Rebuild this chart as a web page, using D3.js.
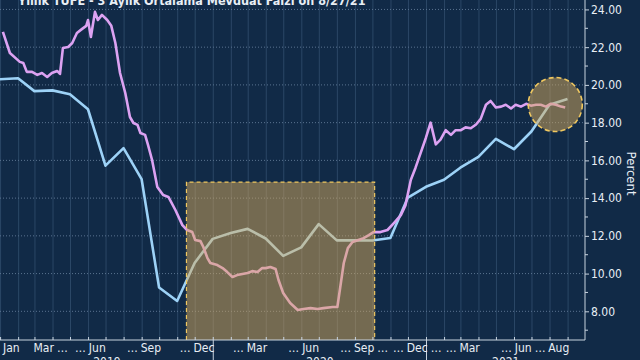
<!DOCTYPE html>
<html>
<head>
<meta charset="utf-8">
<script src="https://cdn.jsdelivr.net/npm/d3@7"></script>
<style>
  html, body { margin: 0; padding: 0; background: #112a47; }
  svg { display: block; }
  text { font-family: "DejaVu Sans Condensed", "DejaVu Sans", sans-serif; fill: #e8eef5; }
</style>
</head>
<body>
<svg id="chart" width="640" height="360"></svg>
<script>
// Yillik TUFE (aylik)
const cpiDates = ['2018-12-31', '2019-01-31', '2019-02-28', '2019-03-31', '2019-04-30', '2019-05-31',
  '2019-06-30', '2019-07-31', '2019-08-31', '2019-09-30', '2019-10-31', '2019-11-30', '2019-12-31',
  '2020-01-31', '2020-02-29', '2020-03-31', '2020-04-30', '2020-05-31', '2020-06-30', '2020-07-31',
  '2020-08-31', '2020-09-30', '2020-10-31', '2020-11-30', '2020-12-31', '2021-01-31', '2021-02-28',
  '2021-03-31', '2021-04-30', '2021-05-31', '2021-06-30', '2021-07-31', '2021-08-31']
const cpiValues = [20.30, 20.35, 19.67, 19.71, 19.50, 18.71, 15.72, 16.65, 15.01, 9.26, 8.55, 10.56, 11.84,
  12.15, 12.37, 11.86, 10.94, 11.39, 12.62, 11.76, 11.77, 11.75, 11.89, 14.03, 14.60, 14.97, 15.61,
  16.19, 17.14, 16.59, 17.53, 18.95, 19.25]

// 3 aylik ortalama mevduat faizi (haftalik)
const depDates = ['2019-01-05', '2019-01-17', '2019-02-03', '2019-02-09', '2019-02-15', '2019-02-24',
  '2019-03-05', '2019-03-13', '2019-03-22', '2019-03-30', '2019-04-08', '2019-04-13', '2019-04-18',
  '2019-04-27', '2019-05-04', '2019-05-12', '2019-05-21', '2019-05-28', '2019-05-31', '2019-06-05',
  '2019-06-12', '2019-06-17', '2019-06-24', '2019-07-03', '2019-07-10', '2019-07-17', '2019-07-25',
  '2019-08-03', '2019-08-11', '2019-08-17', '2019-08-24', '2019-08-29', '2019-09-06', '2019-09-11',
  '2019-09-18', '2019-09-27', '2019-10-07', '2019-10-16', '2019-10-28', '2019-11-09', '2019-11-17',
  '2019-11-26', '2019-12-01', '2019-12-10', '2019-12-15', '2019-12-22', '2019-12-27', '2020-01-08',
  '2020-01-17', '2020-01-25', '2020-02-03', '2020-02-11', '2020-02-20', '2020-02-29', '2020-03-08',
  '2020-03-17', '2020-03-25', '2020-03-31', '2020-04-08', '2020-04-17', '2020-04-22', '2020-04-30',
  '2020-05-12', '2020-05-25', '2020-06-04', '2020-06-16', '2020-06-28', '2020-07-08', '2020-07-24',
  '2020-08-01', '2020-08-06', '2020-08-12', '2020-08-19', '2020-08-27', '2020-09-06', '2020-09-15',
  '2020-09-24', '2020-10-02', '2020-10-14', '2020-10-26', '2020-11-06', '2020-11-18', '2020-11-26',
  '2020-12-05', '2020-12-13', '2020-12-22', '2020-12-31', '2021-01-08', '2021-01-17', '2021-01-25',
  '2021-02-03', '2021-02-12', '2021-02-20', '2021-03-01', '2021-03-09', '2021-03-18', '2021-03-27',
  '2021-04-04', '2021-04-13', '2021-04-21', '2021-04-30', '2021-05-09', '2021-05-17', '2021-05-26',
  '2021-06-03', '2021-06-12', '2021-06-21', '2021-06-29', '2021-07-08', '2021-07-16', '2021-07-25',
  '2021-08-02', '2021-08-11', '2021-08-20', '2021-08-27']
const depValues = [22.81, 21.69, 21.22, 21.16, 20.69, 20.69, 20.53, 20.63, 20.42, 20.63, 20.74, 20.58, 21.96,
  22.01, 22.22, 22.75, 22.97, 23.13, 23.44, 22.54, 23.87, 23.44, 23.71, 23.44, 23.13, 22.22, 20.63,
  19.57, 18.30, 17.98, 17.88, 17.45, 17.35, 16.82, 16.02, 14.59, 14.16, 14.06, 13.37, 12.57, 12.31,
  12.20, 11.78, 11.72, 11.41, 10.82, 10.56, 10.45, 10.29, 10.08, 9.82, 9.92, 9.98, 10.03, 10.13,
  10.08, 10.29, 10.29, 10.35, 10.24, 9.66, 8.97, 8.44, 8.07, 8.12, 8.17, 8.12, 8.17, 8.23,
  8.23, 9.29, 10.56, 11.35, 11.67, 11.78, 11.88, 12.04, 12.20, 12.20, 12.31, 12.68, 13.10, 13.63,
  14.96, 15.60, 16.40, 17.20, 18.00, 16.85, 17.10, 17.60, 17.35, 17.60, 17.60, 17.75, 17.70, 17.90,
  18.20, 18.95, 19.15, 18.80, 18.85, 18.95, 18.75, 18.95, 18.85, 19.00, 18.90, 18.95, 18.95, 18.85,
  19.00, 18.95, 18.85, 18.80]

// eksen etiketleri
const monthTicks = [
  ['2019-01-01', '', 'Jan', ''], ['2019-03-01', '', 'Mar', '…'], ['2019-06-01', '…', 'Jun', ''],
  ['2019-09-01', '…', 'Sep', ''], ['2019-12-01', '…', 'Dec', ''], ['2020-03-01', '…', 'Mar', ''],
  ['2020-06-01', '…', 'Jun', ''], ['2020-09-01', '…', 'Sep', '…'], ['2020-12-01', '…', 'Dec', '…'],
  ['2021-03-01', '…', 'Mar', ''], ['2021-06-01', '…', 'Jun', '…'], ['2021-08-01', '', 'Aug', '']
]
const years = ['2019', '2020', '2021']
const yTicks = [8, 10, 12, 14, 16, 18, 20, 22, 24]
const title = 'Yıllık TÜFE - 3 Aylık Ortalama Mevduat Faizi on 8/27/21'

// vurgulanan alanlar
const boxRange = ['2019-11-16', '2020-10-04', 14.85]
const circleCenter = ['2021-08-10', 18.96]

const parse = d3.timeParse('%Y-%m-%d')
const width = 585
const height = 340

const svg = d3.select('#chart')

const x = d3.scaleTime()
  .domain([parse('2018-12-31'), parse('2021-09-30')])
  .range([0, width])

const y = d3.scaleLinear()
  .domain([6.48, 24.5])
  .range([height, 0])

// grid
const grid = svg.append('g')
grid.selectAll('line.v')
  .data(d3.timeMonth.range(parse('2019-01-01'), parse('2021-10-01')))
  .enter().append('line')
  .attr('x1', (d) => x(d)).attr('x2', (d) => x(d))
  .attr('y1', 0).attr('y2', height)
  .attr('stroke', '#2b4766').attr('stroke-width', 1)

grid.selectAll('line.h')
  .data(yTicks)
  .enter().append('line')
  .attr('x1', 0).attr('x2', width)
  .attr('y1', (d) => y(d)).attr('y2', (d) => y(d))
  .attr('stroke', '#5a7390').attr('stroke-width', 1)
  .attr('stroke-dasharray', '1,2')

// lines
const cpi = cpiDates.map((d, i) => [parse(d), cpiValues[i]])
const dep = depDates.map((d, i) => [parse(d), depValues[i]])
const line = d3.line().x((d) => x(d[0])).y((d) => y(d[1]))

svg.append('path').datum(cpi)
  .attr('d', line).attr('fill', 'none')
  .attr('stroke', '#9dd2f7').attr('stroke-width', 2.6)
  .attr('stroke-linejoin', 'round')

svg.append('path').datum(dep)
  .attr('d', line).attr('fill', 'none')
  .attr('stroke', '#dca2f2').attr('stroke-width', 2.6)
  .attr('stroke-linejoin', 'round')

// highlight box + circle (uzerine yari saydam)
const bx0 = x(parse(boxRange[0]))
const bx1 = x(parse(boxRange[1]))
const by0 = y(boxRange[2])
svg.append('rect')
  .attr('x', bx0).attr('y', by0)
  .attr('width', bx1 - bx0).attr('height', height - by0)
  .attr('fill', '#d8aa5c').attr('fill-opacity', 0.5)
svg.append('path')
  .attr('d', `M${bx0},${height}V${by0}H${bx1}V${height}`)
  .attr('fill', 'none').attr('stroke', '#f0c860')
  .attr('stroke-width', 1.2).attr('stroke-dasharray', '4,3')

svg.append('circle')
  .attr('cx', x(parse(circleCenter[0]))).attr('cy', y(circleCenter[1]))
  .attr('r', 27)
  .attr('fill', '#d8aa5c').attr('fill-opacity', 0.5)
  .attr('stroke', '#f0c860').attr('stroke-width', 1.6)
  .attr('stroke-dasharray', '5,3')

// x axis
svg.append('line')
  .attr('x1', 0).attr('x2', width)
  .attr('y1', height).attr('y2', height)
  .attr('stroke', '#c8d3df')
svg.append('g').selectAll('line')
  .data(d3.timeMonth.range(parse('2019-01-01'), parse('2021-10-01')))
  .enter().append('line')
  .attr('x1', (d) => x(d)).attr('x2', (d) => x(d))
  .attr('y1', height - 3).attr('y2', height)
  .attr('stroke', '#c8d3df')
svg.append('g').selectAll('line')
  .data([parse('2020-01-01'), parse('2021-01-01')])
  .enter().append('line')
  .attr('x1', (d) => x(d)).attr('x2', (d) => x(d))
  .attr('y1', height).attr('y2', 360)
  .attr('stroke', '#c8d3df')

const mt = svg.append('g')
monthTicks.forEach((t) => {
  const d = parse(t[0])
  let cx = x(d3.timeDay.offset(d, 15))
  const g = mt.append('g')
  const name = g.append('text').attr('y', 352).attr('font-size', 12)
    .attr('text-anchor', 'middle').text(t[2])
  const w = name.node().getComputedTextLength()
  if (cx - w / 2 < 3) cx = 3 + w / 2
  name.attr('x', cx)
  if (t[1]) {
    g.append('text').attr('x', cx - w / 2 - 3).attr('y', 352).attr('font-size', 12)
      .attr('text-anchor', 'end').text(t[1])
  }
  if (t[3]) {
    g.append('text').attr('x', cx + w / 2 + 3).attr('y', 352).attr('font-size', 12)
      .attr('text-anchor', 'start').text(t[3])
  }
})

svg.append('g').selectAll('text')
  .data(years)
  .enter().append('text')
  .attr('x', (d) => {
    const a = Math.max(x(parse(d + '-01-01')), 0)
    const b = Math.min(x(parse((+d + 1) + '-01-01')), width)
    return (a + b) / 2
  })
  .attr('y', 366).attr('font-size', 12)
  .attr('text-anchor', 'middle').text((d) => d)

// y axis (sag)
const yAxis = d3.axisRight(y)
  .tickValues(yTicks)
  .tickSize(4)
  .tickFormat(d3.format('.2f'))
const ya = svg.append('g')
  .attr('transform', `translate(${width},0)`)
  .call(yAxis)
ya.select('.domain').attr('stroke', '#c8d3df').attr('d', `M0,0V${height}`)
ya.selectAll('.tick line').attr('stroke', '#c8d3df')
ya.selectAll('.tick text').attr('font-size', 12).attr('fill', '#e8eef5')
  .attr('font-family', '"DejaVu Sans Condensed", "DejaVu Sans", sans-serif')
  .attr('x', 6)
ya.selectAll('.minor')
  .data(d3.range(7, 25, 2))
  .enter().append('line')
  .attr('class', 'minor')
  .attr('x1', 0).attr('x2', 3)
  .attr('y1', (d) => y(d)).attr('y2', (d) => y(d))
  .attr('stroke', '#c8d3df')

svg.append('text')
  .attr('transform', `translate(627, ${y(15.3)}) rotate(90)`)
  .attr('text-anchor', 'middle').attr('font-size', 13)
  .text('Percent')

// baslik (ust kenardan kesik)
svg.append('text')
  .attr('x', 18).attr('y', 5)
  .attr('font-size', 12.5).attr('font-weight', 'bold')
  .text(title)
</script>
</body>
</html>
